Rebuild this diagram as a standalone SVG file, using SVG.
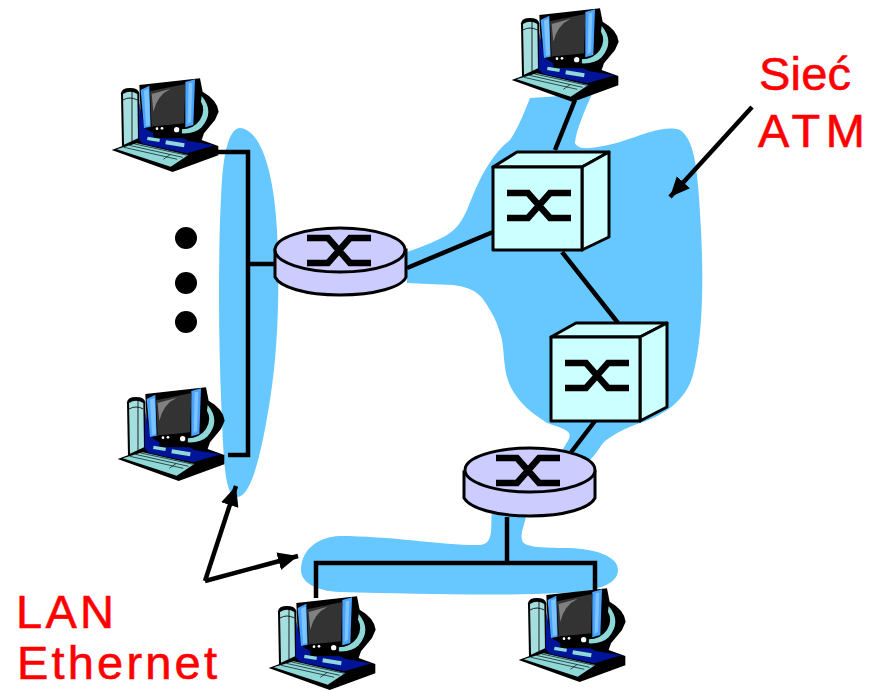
<svg xmlns="http://www.w3.org/2000/svg" width="876" height="690" viewBox="0 0 876 690">
<style>
.blob{fill:#66c8ff}
.ln{fill:none;stroke:#000;stroke-width:4.5}
.x{fill:none;stroke:#000;stroke-width:6.5}
.rt{fill:#ccccff;stroke:#000;stroke-width:3}
.sw{fill:#ccffff;stroke:#000;stroke-width:3;stroke-linejoin:round}
.lbl{font-family:"Liberation Sans",Arial,sans-serif;font-size:47px;fill:#ff0000;stroke:#ff0000;stroke-width:.6}
.dot{fill:#000}
</style>
<defs>
<marker id="ah" markerUnits="userSpaceOnUse" markerWidth="22" markerHeight="20" refX="20" refY="10" orient="auto"><path d="M0 1L20 10L0 19Z" fill="#000"/></marker>
<g id="pc" transform="scale(.3333)">
<path d="M35 240L110 212V195L125 195L118 45L300 25L308 65Q352 90 356 125L345 150L312 190L305 210L355 228V256L218 306Z" fill="#000"/>
<path d="M63 70Q65 54 90 54Q115 54 118 70L120 215L66 232Z" fill="#000"/>
<path d="M69 72Q90 58 112 72L114 205L72 224Z" fill="#a4dede"/>
<path d="M96 62V214" stroke="#000" stroke-width="2.5" fill="none"/>
<path d="M69 90Q90 78 112 90" stroke="#000" stroke-width="2.5" fill="none"/>
<path d="M116 208L118 100L135 175L160 190L160 205L250 205L265 213L344 226L262 250L130 222Z" fill="#00149a"/>
<path d="M122 60L148 47L152 170L132 174Z" fill="#4aa3ff"/>
<path d="M256 36L285 28L280 165L256 172Z" fill="#4aa3ff"/>
<path d="M132 62L146 56L150 165L138 168ZM266 40L277 38L273 155L263 162Z" fill="#7cc4ff"/>
<path d="M150 64L256 42L252 160L155 170Z" fill="#333"/>
<path d="M155 72L212 56Q172 75 160 125Z" fill="#808080"/>
<path d="M305 78Q345 125 305 172Q285 192 245 190L245 178Q280 178 300 150Q318 120 303 95Z" fill="#8fd8d8"/>
<path d="M160 168L245 165L245 188L160 188Z" fill="#000"/>
<circle cx="171" cy="176" r="4" fill="#fff"/><circle cx="186" cy="175" r="4" fill="#fff"/><circle cx="230" cy="179" r="8" fill="#fff"/>
<path d="M143 200L180 206L178 216L141 210ZM198 211L254 220L252 232L196 223Z" fill="#8fd8d8"/>
<path d="M50 238L110 220L265 255L212 290Z" fill="#8fd8d8"/>
<path d="M72 232L232 268M88 226L248 262M104 222L262 256M190 268L210 254" stroke="#000" stroke-width="2" fill="none"/>
</g>
<path id="cross" d="M0 0H21L43 25H64M0 25H21L43 0H64"/>
</defs>
<g id="blobs">
<path class="blob" d="M240 128C262 130 274 175 277 230C280 290 278 350 270 400C262 450 252 497 237 497C226 497 224 470 222 420C218 340 218 240 222 180C224 150 230 128 240 128Z"/>
<path class="blob" d="M530 98L592 94C585 110 576 130 575 143C578 150 590 150 620 142C645 134 665 125 680 130C695 140 698 170 701 230C704 290 702 340 693 375C686 400 665 415 640 423C625 428 610 436 603 443C598 450 595 455 590 460L562 452C564 445 572 438 569 433C565 428 555 426 547 423C535 415 525 408 517 397C508 385 506 375 505 367C503 350 503 340 500 333C497 322 493 315 490 310C483 298 478 288 453 285C435 284 420 284 407 283V252C425 246 438 240 447 235C458 228 462 220 467 210C475 190 480 178 487 167C498 150 504 145 510 140C520 125 525 110 530 98Z"/>
<path class="blob" d="M492 512H526C526 525 520 530 522 540C523 547 540 548 570 548C595 549 618 556 618 570C618 585 595 592 560 593C500 596 420 594 340 592C315 591 301 582 301 570C301 552 315 537 340 536C390 536 450 546 480 545C495 544 490 525 492 512Z"/>
</g>
<g id="connectors">
<path class="ln" d="M218 152H248V455H228"/>
<path class="ln" d="M248 264H276"/>
<path class="ln" d="M407 268L493 232"/>
<path class="ln" d="M575 100L555 150"/>
<path class="ln" d="M562 252L618 323"/>
<path class="ln" d="M595 421L569 455"/>
<path class="ln" d="M507 517V563"/>
<path class="ln" d="M316 598V563H595V592"/>
<path class="ln" d="M205 581L236 486" marker-end="url(#ah)"/>
<path class="ln" d="M205 581L298 556" marker-end="url(#ah)"/>
<path class="ln" d="M752 107L670 197" marker-end="url(#ah)"/>
</g>
<g id="pc-left-top"><use href="#pc" transform="translate(100 70)"/></g>
<g id="pc-left-bottom"><use href="#pc" transform="translate(106 379)"/></g>
<g id="pc-top"><use href="#pc" transform="translate(500 0)"/></g>
<g id="pc-bottom-left"><use href="#pc" transform="translate(257 588)"/></g>
<g id="pc-bottom-right"><use href="#pc" transform="translate(507 580)"/></g>
<g id="dots"><circle class="dot" cx="186" cy="238" r="11"/><circle class="dot" cx="186" cy="283" r="11"/><circle class="dot" cx="186" cy="322" r="11"/></g>
<g id="router-1">
<path class="rt" d="M275 250V277C280 287 305 295 340 295C375 295 402 287 406 277V250Z"/>
<ellipse class="rt" cx="340" cy="250" rx="65" ry="22"/>
<use href="#cross" class="x" transform="translate(307 238)"/>
</g>
<g id="router-2">
<path class="rt" d="M464 472V498C470 508 495 516 530 516C565 516 590 508 595 498V472Z"/>
<ellipse class="rt" cx="530" cy="470" rx="65" ry="22"/>
<use href="#cross" class="x" transform="translate(496 458)"/>
</g>
<g id="switch-1">
<path class="sw" d="M493 167L517 152H609L582 167Z"/>
<path class="sw" d="M582 167L609 152V237L582 250Z"/>
<rect class="sw" x="493" y="167" width="89" height="83"/>
<use href="#cross" class="x" transform="translate(507 193)"/>
</g>
<g id="switch-2">
<path class="sw" d="M551 337L576 323H667L640 337Z"/>
<path class="sw" d="M640 337L667 323V407L640 421Z"/>
<rect class="sw" x="551" y="337" width="89" height="84"/>
<use href="#cross" class="x" transform="translate(565 363)"/>
</g>
<g id="labels">
<text class="lbl" x="759" y="90" textLength="92" lengthAdjust="spacing">Sieć</text>
<text class="lbl" x="758" y="147" textLength="107" lengthAdjust="spacing">ATM</text>
<text class="lbl" x="16" y="628" textLength="98" lengthAdjust="spacing">LAN</text>
<text class="lbl" x="17" y="679" textLength="200" lengthAdjust="spacing">Ethernet</text>
</g>
</svg>
